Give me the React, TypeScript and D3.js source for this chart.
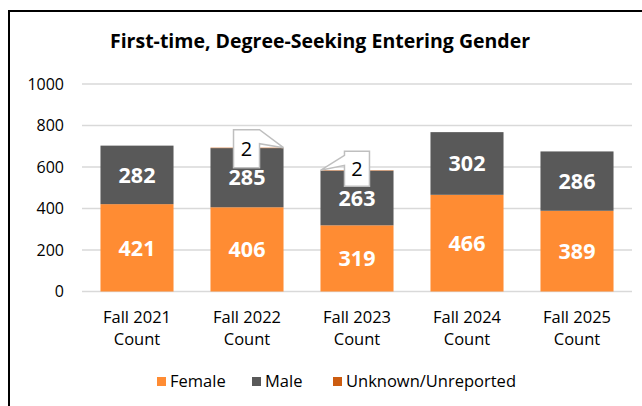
import React from "react";
import * as d3 from "d3";

const categories = ["Fall 2021", "Fall 2022", "Fall 2023", "Fall 2024", "Fall 2025"];
const female = [421, 406, 319, 466, 389];
const male = [282, 285, 263, 302, 286];
const unknown = [0, 2, 2, 0, 0];
const yTicks = [0, 200, 400, 600, 800, 1000];

const seriesNames = ["Female", "Male", "Unknown/Unreported"];
const colors = ["#FF8C33", "#595959", "#CC5C10"];
const font = "'Open Sans', 'Noto Sans', sans-serif";

const W = 642;
const H = 406;

const App = () => {
  const x = d3.scaleBand<string>()
    .domain(categories)
    .range([82, 632])
    .paddingInner(0.336)
    .paddingOuter(0.168);
  const y = d3.scaleLinear().domain([0, 1000]).range([291.5, 84]);

  const rows = categories.map((c, i) => ({ cat: c, Female: female[i], Male: male[i], "Unknown/Unreported": unknown[i] }));
  const stacked = d3.stack<any>().keys(seriesNames)(rows);
  const bw = x.bandwidth();

  // callouts for the tiny "unknown" values
  const callouts = categories.map((c, i) => {
    if (!unknown[i]) return null;
    const total = female[i] + male[i] + unknown[i];
    const side = i === 1 ? "right" : "left";
    const tipX = side === "right" ? x(c)! + bw : x(c)!;
    const tipY = y(total);
    let path = "";
    let cx = 0, cy = 0;
    if (side === "right") {
      const l = tipX - 50, r = tipX - 24, t = tipY - 18, b = tipY + 20;
      path = `M${l},${t}L${r},${t}L${tipX},${tipY}L${r},${t + 14}L${r},${b}L${l},${b}Z`;
      cx = (l + r) / 2; cy = (t + b) / 2;
    } else {
      const l = tipX + 24, r = tipX + 49, t = tipY - 19, b = tipY + 16;
      path = `M${l},${t}L${r},${t}L${r},${b}L${l},${b}L${l},${t + 14}L${tipX},${tipY}L${l},${t + 4}Z`;
      cx = (l + r) / 2; cy = (t + b) / 2;
    }
    return { key: c, path, cx, cy, v: unknown[i] };
  }).filter(Boolean) as any[];

  const legendX = [157, 252, 333];

  return (
    <svg width={W} height={H} style={{ position: "absolute", left: 0, top: 0, background: "#fff" }} fontFamily={font}>
      <rect x={9} y={11} width={W + 20} height={H + 20} fill="#fff" stroke="#000" strokeWidth={2} />
      <text x={320} y={48} textAnchor="middle" fontSize={19.5} fontWeight="bold" fill="#000">
        First-time, Degree-Seeking Entering Gender
      </text>

      {yTicks.map((t) => (
        <g key={t}>
          <line x1={82} x2={632} y1={y(t)} y2={y(t)} stroke="#d9d9d9" strokeWidth={1.5} />
          <text x={64} y={y(t)} dy="0.35em" textAnchor="end" fontSize={16} fill="#000">{t}</text>
        </g>
      ))}

      {stacked.map((s, si) => (
        <g key={s.key} fill={colors[si]}>
          {s.map((d: any) => (
            <rect key={d.data.cat} x={x(d.data.cat)} y={y(d[1])} width={bw}
              height={Math.max(0, y(d[0]) - y(d[1]))} />
          ))}
        </g>
      ))}

      {stacked.slice(0, 2).map((s) => (
        <g key={"lab" + s.key}>
          {s.map((d: any) => (
            <text key={d.data.cat} x={x(d.data.cat)! + bw / 2} y={(y(d[0]) + y(d[1])) / 2} dy="0.36em"
              textAnchor="middle" fontSize={21.5} fontWeight="bold" fill="#fff">
              {d[1] - d[0]}
            </text>
          ))}
        </g>
      ))}

      {callouts.map((c) => (
        <g key={"co" + c.key}>
          <path d={c.path} fill="#fff" stroke="#bfbfbf" strokeWidth={1.5} />
          <text x={c.cx} y={c.cy} dy="0.36em" textAnchor="middle" fontSize={20} fill="#000">{c.v}</text>
        </g>
      ))}

      {categories.map((c) => (
        <text key={"x" + c} x={x(c)! + bw / 2} textAnchor="middle" fontSize={16.5} fill="#000">
          <tspan x={x(c)! + bw / 2} y={323}>{c}</tspan>
          <tspan x={x(c)! + bw / 2} y={345}>Count</tspan>
        </text>
      ))}

      {seriesNames.map((n, i) => (
        <g key={"lg" + n}>
          <rect x={legendX[i]} y={377} width={9} height={9} fill={colors[i]} />
          <text x={legendX[i] + 13} y={381.5} dy="0.36em" fontSize={16.5} fill="#000">{n}</text>
        </g>
      ))}
    </svg>
  );
};

export default App;
